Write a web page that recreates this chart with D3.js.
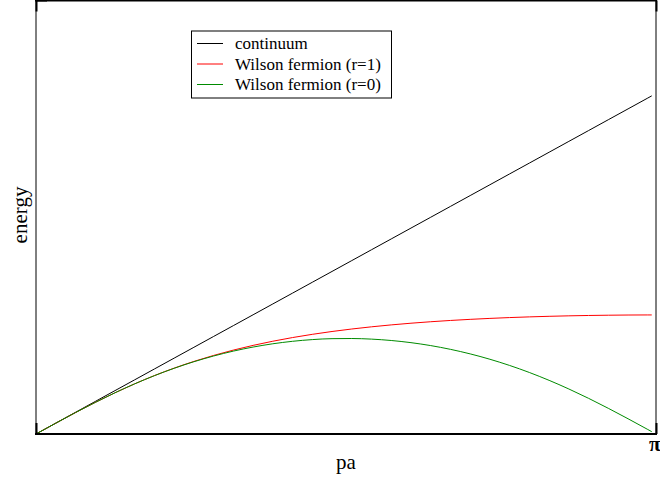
<!DOCTYPE html>
<html>
<head>
<meta charset="utf-8">
<script src="https://cdn.jsdelivr.net/npm/d3@7"></script>
<style>
  html, body { margin: 0; padding: 0; background: #fff; }
  svg { display: block; }
  text { font-family: "Liberation Serif", "Times New Roman", serif; fill: #000; }
</style>
</head>
<body>
<svg id="chart" width="660" height="481"></svg>
<script>
// momentum pa sampled along the Brillouin zone
const momentum = [0.0, 0.1, 0.2, 0.3, 0.4, 0.5, 0.6, 0.7, 0.8, 0.9, 1.0, 1.1, 1.2, 1.3, 1.4, 1.5,
  1.6, 1.7, 1.8, 1.9, 2.0, 2.1, 2.2, 2.3, 2.4, 2.5, 2.6, 2.7, 2.8, 2.9, 3.0, 3.1, 3.12];

// continuum dispersion
const continuum = [0.0, 0.1, 0.2, 0.3, 0.4, 0.5, 0.6, 0.7, 0.8, 0.9, 1.0, 1.1, 1.2, 1.3, 1.4, 1.5,
  1.6, 1.7, 1.8, 1.9, 2.0, 2.1, 2.2, 2.3, 2.4, 2.5, 2.6, 2.7, 2.8, 2.9, 3.0, 3.1, 3.12];

// Wilson fermion, r = 1
const wilsonR1 = [0.0, 0.09967, 0.19739, 0.29139, 0.38023, 0.46290, 0.53879, 0.60768, 0.66964,
  0.72499, 0.77416, 0.81767, 0.85608, 0.88991, 0.91968, 0.94584, 0.96883, 0.98902, 1.00671,
  1.02222, 1.03577, 1.04759, 1.05784, 1.06669, 1.07426, 1.08066, 1.08599, 1.09031, 1.09369,
  1.09616, 1.09778, 1.09854, 1.09859];

// Wilson fermion, r = 0 (naive)
const wilsonR0 = [0.0, 0.09967, 0.19739, 0.29138, 0.38019, 0.46274, 0.53827, 0.60637, 0.66683,
  0.71960, 0.76473, 0.80232, 0.83249, 0.85537, 0.87105, 0.87975, 0.88107, 0.87547, 0.86276,
  0.84289, 0.81576, 0.78127, 0.73929, 0.68971, 0.63245, 0.56752, 0.49503, 0.41534, 0.32902,
  0.23702, 0.14066, 0.04157, 0.02159];

const seriesNames = ["continuum", "Wilson fermion (r=1)", "Wilson fermion (r=0)"];
const seriesColors = ["#000000", "#ff0000", "#008b00"];
const seriesValues = [continuum, wilsonR1, wilsonR0];

const xTicks = [0, Math.PI];
const xTickLabels = ["", "\u03c0"];
const yTicks = [0, 4];

const svg = d3.select("#chart");

const x = d3.scaleLinear().domain([0, Math.PI]).range([36, 656]);
const y = d3.scaleLinear().domain([0, 4]).range([434, 0.5]);

// curves
const line = d3.line()
  .x((d, i) => x(momentum[i]))
  .y(d => y(d))
  .curve(d3.curveMonotoneX);

svg.append("g")
  .selectAll("path")
  .data(seriesValues)
  .join("path")
  .attr("d", d => line(d))
  .attr("fill", "none")
  .attr("stroke", (d, i) => seriesColors[i])
  .attr("stroke-width", 1);

// frame
const frame = svg.append("g").attr("fill", "none");
frame.append("line").attr("x1", x(0)).attr("x2", x(0)).attr("y1", y(4)).attr("y2", y(0))
  .attr("stroke", "#000").attr("stroke-width", 1);
frame.append("line").attr("x1", x(Math.PI)).attr("x2", x(Math.PI)).attr("y1", y(4)).attr("y2", y(0))
  .attr("stroke", "#000").attr("stroke-width", 1);
frame.append("line").attr("x1", x(0) - 1).attr("x2", x(Math.PI) + 1).attr("y1", y(4)).attr("y2", y(4))
  .attr("stroke", "#000").attr("stroke-width", 2);
frame.append("line").attr("x1", x(0) - 1).attr("x2", x(Math.PI) + 1).attr("y1", y(0)).attr("y2", y(0))
  .attr("stroke", "#000").attr("stroke-width", 2);

// bottom axis: inward ticks, label at pi
const xAxis = d3.axisBottom(x)
  .tickValues(xTicks)
  .tickSizeInner(-11)
  .tickSizeOuter(0)
  .tickPadding(2)
  .tickFormat((d, i) => xTickLabels[i]);

const gx = svg.append("g").attr("transform", `translate(0,${y(0)})`).call(xAxis);
gx.select(".domain").remove();
gx.selectAll(".tick line").attr("stroke", "#000").attr("stroke-width", 2);
gx.selectAll(".tick text")
  .attr("font-family", "DejaVu Serif, serif")
  .attr("font-size", 21)
  .attr("font-weight", "bold")
  .attr("text-anchor", "end")
  .attr("dx", 4)
  .attr("fill", "#000");

// mirrored ticks along the top edge
const xAxisTop = d3.axisTop(x).tickValues(xTicks).tickSizeInner(-11).tickSizeOuter(0).tickFormat("");
const gxt = svg.append("g").attr("transform", `translate(0,${y(4)})`).call(xAxisTop);
gxt.select(".domain").remove();
gxt.selectAll(".tick line").attr("stroke", "#000").attr("stroke-width", 2);

// left axis ticks (fall on the frame corners)
const yAxis = d3.axisLeft(y).tickValues(yTicks).tickSizeInner(-11).tickSizeOuter(0).tickFormat("");
const gy = svg.append("g").attr("transform", `translate(${x(0)},0)`).call(yAxis);
gy.select(".domain").remove();

// axis titles
svg.append("text")
  .attr("x", (x(0) + x(Math.PI)) / 2)
  .attr("y", 469)
  .attr("text-anchor", "middle")
  .attr("font-size", 21)
  .text("pa");

svg.append("text")
  .attr("transform", `translate(27,${215}) rotate(-90)`)
  .attr("text-anchor", "middle")
  .attr("font-size", 21)
  .text("energy");

// legend
const legend = svg.append("g").attr("transform", "translate(191,30.5)");
legend.append("rect")
  .attr("x", 0.5).attr("y", 0.5).attr("width", 200).attr("height", 67)
  .attr("fill", "#fff").attr("stroke", "#000").attr("stroke-width", 1);

const rows = legend.selectAll("g.row")
  .data(seriesNames)
  .join("g")
  .attr("class", "row")
  .attr("transform", (d, i) => `translate(0,${13 + i * 20.5})`);

rows.append("line")
  .attr("x1", 6).attr("x2", 32).attr("y1", 0).attr("y2", 0)
  .attr("stroke", (d, i) => seriesColors[i]).attr("stroke-width", 1);

rows.append("text")
  .attr("x", 44)
  .attr("y", 5.5)
  .attr("font-size", 17)
  .text(d => d);
</script>
</body>
</html>
